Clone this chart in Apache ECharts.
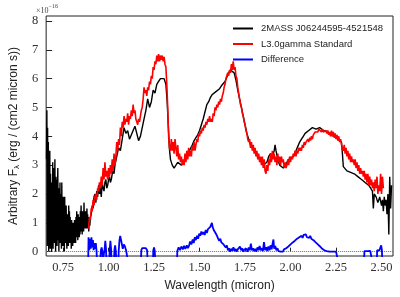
<!DOCTYPE html>
<html><head><meta charset="utf-8">
<script src="https://cdn.jsdelivr.net/npm/echarts@6/dist/echarts.min.js"></script>
<style>html,body{margin:0;padding:0;background:#fff}#c{width:400px;height:297px}</style>
</head><body><div id="c"></div>
<script>
// Tick labels
const xTicks = [0.75, 1.00, 1.25, 1.50, 1.75, 2.00, 2.25, 2.50];
const yTicks = [0, 1, 2, 3, 4, 5, 6, 7, 8];
const seriesNames = ['2MASS J06244595-4521548', 'L3.0gamma Standard', 'Difference'];

// 2MASS J06244595-4521548 spectrum [wavelength (micron), flux (1e-16)]
const objectSpec = [
[0.659,3.2],[0.661,4.9],[0.663,0.2],[0.665,4.3],[0.667,1.0],[0.669,3.8],[0.671,0.0],[0.673,2.6],[0.675,0.5],[0.677,3.5],[0.679,0.1],[0.681,2.7],[0.683,0.9],[0.685,2.2],[0.687,0.0],[0.689,2.4],[0.691,0.6],[0.693,3.1],[0.695,0.1],[0.697,2.9],[0.699,0.8],[0.701,2.0],[0.703,0.3],[0.705,3.2],[0.707,1.1],[0.709,0.0],[0.711,2.6],[0.713,0.9],[0.715,2.5],[0.717,0.2],[0.719,1.8],[0.721,2.9],[0.723,0.4],[0.725,2.0],[0.727,0.0],[0.729,2.2],[0.731,0.7],[0.733,2.4],[0.735,0.3],[0.737,2.0],[0.739,0.9],[0.741,0.1],[0.743,2.4],[0.745,0.6],[0.747,1.5],[0.749,0.2],[0.751,1.9],[0.753,0.8],[0.755,1.3],[0.757,0.0],[0.759,1.9],[0.761,0.6],[0.763,1.2],[0.765,0.3],[0.767,1.6],[0.769,0.5],[0.771,0.1],[0.773,1.3],[0.775,0.6],[0.777,1.1],[0.779,0.2],[0.781,1.6],[0.783,0.8],[0.785,1.4],[0.787,0.3],[0.789,1.2],[0.791,0.6],[0.793,0.9],[0.795,0.1],[0.797,1.1],[0.799,0.5],[0.801,0.9],[0.803,0.2],[0.805,1.0],[0.807,0.4],[0.809,0.8],[0.811,0.3],[0.813,1.1],[0.815,0.5],[0.817,0.9],[0.819,0.3],[0.821,1.2],[0.823,0.6],[0.825,1.4],[0.827,0.5],[0.829,1.0],[0.831,0.4],[0.833,1.3],[0.835,0.7],[0.837,1.0],[0.839,0.5],[0.841,1.2],[0.843,0.6],[0.845,1.4],[0.847,0.8],[0.849,1.6],[0.851,0.7],[0.853,1.2],[0.855,0.6],[0.857,1.4],[0.859,0.8],[0.861,1.1],[0.863,0.7],[0.865,1.7],[0.867,0.9],[0.869,1.3],[0.871,0.8],[0.873,1.4],[0.875,1.0],[0.877,1.2],[0.879,0.8],[0.881,1.5],[0.883,0.9],[0.885,1.3],[0.887,0.8],[0.889,1.2],[0.891,0.7],[0.894,1.1],[0.897,0.9],[0.900,1.2],
[0.905,1.3],[0.910,1.6],[0.915,1.5],[0.920,1.9],[0.925,2.0],[0.930,1.7],[0.935,2.1],[0.940,1.9],[0.945,2.3],[0.950,2.0],[0.955,2.2],[0.960,1.9],[0.965,2.4],[0.970,2.2],[0.975,2.1],[0.980,2.4],[0.985,2.5],[0.990,2.2],[0.995,2.3],[1.000,2.5],[1.005,2.6],[1.010,2.4],[1.015,2.5],[1.020,2.7],[1.025,2.8],[1.030,2.7],[1.035,3.0],[1.045,3.3],[1.055,3.6],[1.065,3.5],[1.075,3.9],[1.085,4.3],[1.095,4.1],[1.105,4.2],[1.115,3.9],[1.125,3.85],[1.135,4.2],[1.145,4.35],[1.155,4.1],[1.165,3.85],[1.175,4.0],[1.185,4.3],[1.195,4.6],[1.205,4.9],[1.215,5.3],[1.225,5.0],[1.235,5.2],[1.245,5.6],[1.255,5.5],[1.265,5.8],[1.275,5.9],[1.285,6.0],[1.295,6.05],[1.305,6.0],[1.315,5.8],[1.322,5.2],[1.328,4.4],[1.334,3.6],[1.340,3.2],[1.350,3.0],[1.360,2.9],[1.370,2.95],[1.380,3.1],[1.390,3.15],[1.400,3.0],[1.410,3.05],[1.420,3.2],[1.430,3.3],[1.440,3.45],[1.450,3.5],[1.460,3.7],[1.470,3.85],[1.480,3.95],[1.490,4.05],[1.500,4.2],[1.510,4.4],[1.520,4.6],[1.530,4.85],[1.540,5.1],[1.550,5.2],[1.560,5.35],[1.570,5.45],[1.580,5.5],[1.590,5.55],[1.600,5.6],[1.610,5.65],[1.620,5.75],[1.630,5.8],[1.640,5.9],[1.650,6.05],[1.660,6.2],[1.670,6.3],[1.680,6.35],[1.690,6.2],[1.700,5.95],[1.710,5.6],[1.720,5.3],[1.730,5.0],[1.740,4.7],[1.750,4.4],[1.760,4.1],[1.770,3.9],[1.780,3.7],[1.790,3.6],[1.800,3.5],[1.810,3.4],[1.820,3.3],[1.830,3.25],[1.840,3.1],[1.850,3.0],[1.860,2.95],[1.870,3.1],[1.880,3.3],[1.890,3.4],[1.900,3.3],[1.910,3.5],[1.915,3.7],[1.920,3.5],[1.930,3.2],[1.940,3.0],[1.950,2.95],[1.960,2.9],[1.970,3.0],[1.980,3.1],[1.990,3.2],[2.000,3.2],[2.010,3.25],[2.020,3.3],[2.030,3.5],[2.040,3.65],[2.050,3.8],[2.060,3.9],[2.070,4.0],[2.080,4.1],[2.090,4.15],[2.100,4.2],[2.110,4.25],[2.120,4.3],[2.130,4.3],[2.140,4.25],[2.150,4.3],[2.160,4.3],[2.170,4.25],[2.180,4.2],[2.190,4.2],[2.200,4.15],[2.210,4.1],[2.220,4.05],[2.230,4.0],[2.240,4.0],[2.250,3.95],[2.260,3.9],[2.270,3.85],[2.280,3.8],[2.285,3.4],[2.290,2.95],[2.300,2.9],[2.310,2.8],[2.320,2.85],[2.330,2.75],[2.340,2.8],[2.350,2.7],[2.360,2.7],[2.370,2.6],[2.380,2.6],[2.390,2.5],[2.400,2.55],[2.410,2.4],[2.420,2.35],[2.430,2.3],[2.440,2.2],[2.450,2.1],[2.455,1.5],[2.460,2.0],[2.470,1.9],[2.480,1.7],[2.490,1.9],[2.500,1.6],[2.505,1.8],[2.510,1.4],[2.515,1.9],[2.520,1.6],[2.525,1.8],[2.530,1.3],[2.535,2.0],[2.540,0.6],[2.545,2.6],[2.550,1.5],[2.555,2.3]
];

// L3.0gamma standard spectrum
const standardSpec = [
[0.890,0.8],[0.895,1.2],[0.900,1.1],[0.905,1.5],[0.910,1.4],[0.915,1.8],[0.920,1.6],[0.925,1.9],[0.930,2.0],[0.935,1.8],[0.940,2.2],[0.945,2.1],[0.950,2.4],[0.955,2.2],[0.960,2.6],[0.965,2.3],[0.970,2.9],[0.975,2.5],[0.980,3.1],[0.985,2.6],[0.990,2.8],[0.995,2.5],[1.000,2.9],[1.005,2.6],[1.010,3.0],[1.015,2.7],[1.020,3.2],[1.025,2.8],[1.030,3.4],[1.035,3.0],[1.040,3.3],[1.045,3.8],[1.050,3.5],[1.055,3.9],[1.060,3.7],[1.065,4.3],[1.070,4.0],[1.075,4.5],[1.080,4.3],[1.085,4.7],[1.090,4.4],[1.095,4.6],[1.100,4.5],[1.105,4.8],[1.110,4.4],[1.115,4.7],[1.120,4.6],[1.125,4.9],[1.130,4.7],[1.135,5.1],[1.140,4.8],[1.145,4.9],[1.150,4.6],[1.155,4.5],[1.160,4.4],[1.165,4.6],[1.170,4.5],[1.175,4.7],[1.180,4.9],[1.185,5.0],[1.190,5.3],[1.195,5.7],[1.200,5.5],[1.205,5.6],[1.210,5.4],[1.215,5.7],[1.220,5.6],[1.225,5.9],[1.230,5.8],[1.235,6.1],[1.240,6.0],[1.245,6.4],[1.250,6.3],[1.255,6.6],[1.260,6.5],[1.265,6.8],[1.270,6.6],[1.275,6.85],[1.280,6.6],[1.285,6.8],[1.290,6.65],[1.295,6.8],[1.300,6.6],[1.305,6.75],[1.310,6.5],[1.315,6.4],[1.320,5.8],[1.325,5.0],[1.330,4.0],[1.335,3.6],[1.340,3.5],[1.345,3.9],[1.350,3.5],[1.355,3.8],[1.360,3.4],[1.365,3.9],[1.370,3.6],[1.375,3.3],[1.380,3.7],[1.385,3.2],[1.390,3.4],[1.395,3.1],[1.400,3.3],[1.405,3.0],[1.410,3.2],[1.415,3.0],[1.420,3.4],[1.425,3.1],[1.430,3.5],[1.435,3.2],[1.440,3.6],[1.445,3.3],[1.450,3.5],[1.455,3.3],[1.460,3.7],[1.465,3.5],[1.470,3.8],[1.475,3.5],[1.480,3.7],[1.485,3.9],[1.490,3.8],[1.495,4.1],[1.500,4.0],[1.505,4.2],[1.510,4.1],[1.515,4.3],[1.520,4.2],[1.525,4.4],[1.530,4.3],[1.535,4.5],[1.540,4.4],[1.545,4.6],[1.550,4.5],[1.555,4.7],[1.560,4.5],[1.565,4.6],[1.570,4.5],[1.575,4.8],[1.580,4.7],[1.585,5.0],[1.590,4.9],[1.595,5.1],[1.600,5.0],[1.605,5.2],[1.610,5.1],[1.615,5.3],[1.620,5.2],[1.625,5.4],[1.630,5.5],[1.635,5.7],[1.640,5.8],[1.645,6.0],[1.650,6.0],[1.655,6.2],[1.660,6.1],[1.665,6.3],[1.670,6.2],[1.675,6.5],[1.680,6.3],[1.685,6.6],[1.690,6.3],[1.695,6.4],[1.700,6.1],[1.705,6.0],[1.710,5.7],[1.715,5.5],[1.720,5.3],[1.725,5.1],[1.730,5.0],[1.735,4.8],[1.740,4.7],[1.745,4.5],[1.750,4.4],[1.755,4.2],[1.760,4.1],[1.765,3.9],[1.770,3.8],[1.775,3.9],[1.780,3.6],[1.785,3.8],[1.790,3.5],[1.795,3.7],[1.800,3.4],[1.805,3.6],[1.810,3.3],[1.815,3.5],[1.820,3.2],[1.825,3.4],[1.830,3.1],[1.835,3.3],[1.840,3.0],[1.845,3.3],[1.850,2.9],[1.855,3.2],[1.860,2.8],[1.865,2.7],[1.870,3.0],[1.875,2.8],[1.880,3.2],[1.885,3.0],[1.890,3.4],[1.895,3.1],[1.900,3.5],[1.905,3.2],[1.910,3.4],[1.915,3.1],[1.920,3.3],[1.925,3.0],[1.930,3.4],[1.935,3.1],[1.940,3.3],[1.945,3.0],[1.950,3.3],[1.955,3.1],[1.960,3.2],[1.965,2.9],[1.970,3.1],[1.975,2.9],[1.980,3.0],[1.985,3.2],[1.990,3.0],[1.995,3.3],[2.000,3.1],[2.005,3.3],[2.010,3.2],[2.015,3.4],[2.020,3.3],[2.025,3.5],[2.030,3.3],[2.035,3.5],[2.040,3.4],[2.045,3.6],[2.050,3.5],[2.055,3.6],[2.060,3.5],[2.065,3.7],[2.070,3.6],[2.075,3.8],[2.080,3.7],[2.085,3.8],[2.090,3.75],[2.095,3.9],[2.100,3.8],[2.105,3.95],[2.110,3.85],[2.115,4.0],[2.120,3.9],[2.125,4.05],[2.130,4.0],[2.135,4.15],[2.140,4.1],[2.145,4.2],[2.150,4.15],[2.155,4.25],[2.160,4.2],[2.165,4.2],[2.170,4.15],[2.175,4.25],[2.180,4.15],[2.185,4.2],[2.190,4.1],[2.195,4.2],[2.200,4.1],[2.205,4.2],[2.210,4.05],[2.215,4.15],[2.220,4.0],[2.225,4.2],[2.230,4.0],[2.235,4.15],[2.240,3.95],[2.245,4.1],[2.250,3.9],[2.255,4.05],[2.260,3.85],[2.265,4.0],[2.270,3.8],[2.275,3.9],[2.280,3.7],[2.285,3.6],[2.290,3.5],[2.295,3.7],[2.300,3.4],[2.305,3.6],[2.310,3.3],[2.315,3.5],[2.320,3.2],[2.325,3.4],[2.330,3.1],[2.335,3.3],[2.340,3.1],[2.345,3.2],[2.350,3.0],[2.355,3.2],[2.360,2.9],[2.365,3.1],[2.370,2.8],[2.375,3.0],[2.380,2.7],[2.385,2.9],[2.390,2.7],[2.395,2.8],[2.400,2.6],[2.405,2.8],[2.410,2.5],[2.415,2.7],[2.420,2.4],[2.425,2.7],[2.430,2.3],[2.435,2.6],[2.440,2.3],[2.445,2.5],[2.450,2.2],[2.455,2.4],[2.460,2.1],[2.465,2.5],[2.470,2.2],[2.475,2.6],[2.480,2.0],[2.485,2.3],[2.490,2.1],[2.495,2.7],[2.500,2.0],[2.505,2.6],[2.510,2.2]
];

// Difference
const differenceSpec = [
[0.888,-0.3],[0.890,0.50],[0.894,0.05],[0.898,0.45],[0.902,0.10],[0.906,0.50],[0.910,0.15],[0.914,0.40],[0.918,0.05],[0.922,0.30],[0.926,0.10],[0.930,0.30],[0.934,0.02],[0.936,-0.3],[0.954,-0.3],[0.958,0.05],[0.962,0.15],[0.966,0.02],[0.968,-0.3],[0.976,-0.3],[0.978,0.05],[0.982,0.38],[0.986,0.10],[0.988,-0.3],[1.004,-0.3],[1.006,0.05],[1.010,0.38],[1.014,0.08],[1.016,-0.3],[1.030,-0.3],[1.032,0.05],[1.036,0.22],[1.040,0.02],[1.042,-0.3],[1.054,-0.3],[1.056,0.05],[1.060,0.40],[1.064,0.55],[1.068,0.50],[1.072,0.30],[1.078,0.10],[1.084,0.25],[1.090,0.18],[1.096,0.05],[1.104,0.03],[1.106,-0.3],[1.178,-0.3],[1.180,0.05],[1.185,0.12],[1.195,0.10],[1.205,0.12],[1.212,0.05],[1.214,-0.3],[1.244,-0.3],[1.246,0.05],[1.250,0.15],[1.254,0.02],[1.256,-0.3],[1.376,-0.3],[1.378,0.03],[1.385,0.15],[1.392,0.05],[1.400,0.18],[1.408,0.08],[1.415,0.20],[1.422,0.10],[1.430,0.22],[1.436,0.12],[1.442,0.20],[1.448,0.35],[1.455,0.25],[1.462,0.42],[1.468,0.30],[1.474,0.50],[1.480,0.40],[1.486,0.55],[1.492,0.45],[1.498,0.62],[1.504,0.55],[1.510,0.70],[1.516,0.60],[1.522,0.68],[1.528,0.58],[1.534,0.75],[1.540,0.65],[1.546,0.78],[1.552,0.72],[1.558,0.85],[1.564,0.90],[1.568,1.00],[1.572,0.85],[1.578,0.75],[1.584,0.80],[1.590,0.62],[1.596,0.55],[1.602,0.45],[1.608,0.38],[1.614,0.45],[1.620,0.32],[1.626,0.35],[1.632,0.25],[1.638,0.30],[1.644,0.15],[1.650,0.22],[1.656,0.05],[1.662,0.12],[1.668,0.00],[1.674,0.10],[1.680,0.03],[1.686,0.15],[1.692,0.02],[1.698,0.10],[1.704,0.00],[1.710,0.08],[1.716,0.02],[1.722,0.18],[1.728,0.05],[1.734,0.12],[1.740,0.00],[1.746,0.08],[1.752,0.02],[1.758,0.10],[1.764,0.00],[1.770,0.15],[1.776,0.05],[1.782,0.28],[1.788,0.05],[1.794,0.12],[1.800,0.02],[1.806,0.10],[1.812,0.00],[1.818,0.15],[1.824,0.05],[1.830,0.20],[1.836,0.05],[1.842,0.12],[1.848,0.02],[1.854,0.33],[1.860,0.05],[1.866,0.15],[1.872,0.02],[1.878,0.18],[1.884,0.05],[1.890,0.22],[1.896,0.08],[1.902,0.30],[1.906,0.42],[1.910,0.10],[1.916,0.20],[1.922,0.05],[1.928,0.12],[1.934,0.02],[1.940,0.08],[1.946,0.00],[1.952,0.05],[1.958,0.00],[1.964,0.08],[1.970,0.03],[1.976,0.12],[1.982,0.08],[1.988,0.18],[1.994,0.15],[2.000,0.25],[2.006,0.22],[2.012,0.32],[2.018,0.28],[2.024,0.38],[2.030,0.35],[2.036,0.45],[2.042,0.40],[2.048,0.50],[2.054,0.45],[2.060,0.55],[2.066,0.48],[2.072,0.58],[2.078,0.52],[2.084,0.60],[2.090,0.50],[2.096,0.56],[2.102,0.48],[2.108,0.55],[2.114,0.45],[2.120,0.50],[2.126,0.40],[2.132,0.42],[2.138,0.32],[2.144,0.35],[2.150,0.25],[2.156,0.28],[2.162,0.18],[2.168,0.20],[2.174,0.10],[2.180,0.12],[2.186,0.05],[2.192,0.06],[2.198,0.02],[2.206,0.05],[2.214,0.00],[2.222,0.04],[2.230,0.00],[2.240,0.03],[2.250,0.00],[2.258,0.02],[2.260,-0.3],[2.404,-0.3],[2.406,0.02],[2.414,0.06],[2.422,0.02],[2.430,0.08],[2.438,0.03],[2.446,0.06],[2.448,-0.3],[2.474,-0.3],[2.476,0.05],[2.482,0.10],[2.488,0.04],[2.494,0.15],[2.498,0.22],[2.502,0.05],[2.504,-0.3]
];

const chart = echarts.init(document.getElementById('c'), null, {renderer: 'canvas'});
const serif = 'Liberation Serif';
const sans = 'Liberation Sans';
chart.setOption({
  animation: false,
  backgroundColor: '#fff',
  grid: {left: 36, right: 7, top: 16, bottom: 41, show: true, borderColor: '#222', borderWidth: 1, backgroundColor: 'transparent'},
  legend: {
    orient: 'vertical', left: 233, top: 23, padding: 0, itemGap: 4.5,
    itemWidth: 20, itemHeight: 2, icon: 'rect',
    data: seriesNames,
    textStyle: {fontFamily: sans, fontSize: 9.5, color: '#222', padding: [0, 0, 0, 3], lineHeight: 11}
  },
  xAxis: {
    type: 'value', min: 0.657, max: 2.563,
    name: 'Wavelength (micron)', nameLocation: 'middle', nameGap: 24,
    nameTextStyle: {fontFamily: sans, fontSize: 12, color: '#222'},
    axisLine: {show: false},
    axisTick: {show: true, inside: true, length: 4, lineStyle: {color: '#222'}, customValues: xTicks},
    axisLabel: {customValues: xTicks, fontFamily: serif, fontSize: 12.5, color: '#333', margin: 5,
      formatter: v => v.toFixed(2)},
    splitLine: {show: false}
  },
  yAxis: {
    type: 'value', min: -0.15, max: 8.17,
    name: '{a|Arbitrary F}{s|λ}{a| (erg / (cm2 micron s))}', nameLocation: 'middle', nameGap: 20,
    nameTextStyle: {rich: {a: {fontFamily: sans, fontSize: 12, color: '#222'}, s: {fontFamily: sans, fontSize: 8, color: '#222', verticalAlign: 'bottom', padding: [6, 0, 0, 0]}}},
    axisLine: {show: false},
    axisTick: {show: true, inside: true, length: 6, lineStyle: {color: '#222'}, customValues: yTicks},
    axisLabel: {customValues: yTicks, fontFamily: serif, fontSize: 12.5, color: '#333', margin: 8,
      formatter: v => String(Math.round(v))},
    splitLine: {show: false}
  },
  graphic: [{
    type: 'text', left: 36, top: 3,
    style: {text: '{b|×10}{p|−16}', rich: {b: {fontFamily: serif, fontSize: 8, fill: '#444', padding: [4, 0, 0, 0]}, p: {fontFamily: serif, fontSize: 6, fill: '#444', verticalAlign: 'top'}}}
  }],
  series: [
    {name: seriesNames[0], type: 'line', data: objectSpec, symbol: 'none', color: '#000', lineStyle: {width: 1.4, color: '#000'}, z: 3},
    {name: seriesNames[1], type: 'line', data: standardSpec, symbol: 'none', color: '#ff0000', lineStyle: {width: 1.6, color: '#ff0000'}, z: 4},
    {name: seriesNames[2], type: 'line', data: differenceSpec, symbol: 'none', color: '#0000ff', lineStyle: {width: 1.8, color: '#0000ff'}, z: 5,
      markLine: {silent: true, symbol: 'none', label: {show: false}, lineStyle: {type: 'dotted', color: '#9a4fb0', width: 1}, data: [{yAxis: 0}]}}
  ]
});
</script>
</body></html>
